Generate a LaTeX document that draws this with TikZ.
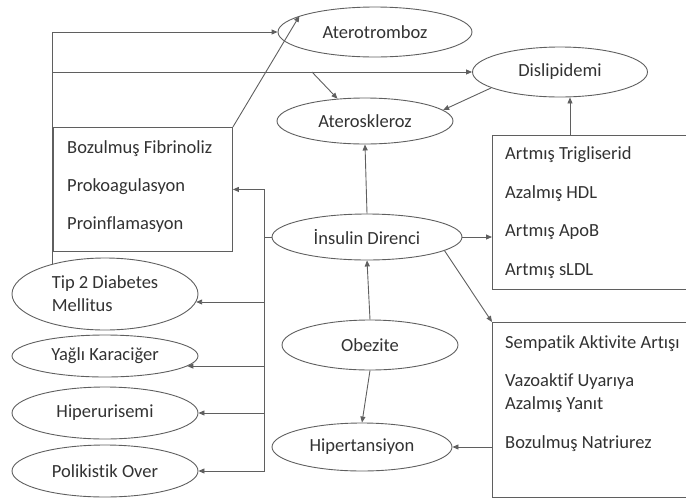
\documentclass[tikz,border=0pt]{standalone}
\usepackage{fontspec}
\setmainfont{Carlito}[Ligatures=NoCommon]
\usepackage{tikz}
\usetikzlibrary{shapes.geometric, arrows.meta, calc}
\definecolor{LineGray}{RGB}{95,95,95}
\definecolor{TextGray}{RGB}{50,50,50}

\begin{document}
\begin{tikzpicture}[
  x=1pt, y=-1pt,
  font=\fontsize{18.5}{23}\selectfont,
  every node/.style={text=TextGray},
  state/.style={
    ellipse, draw=LineGray, line width=0.9pt, inner sep=0pt
  },
  listbox/.style={
    rectangle, draw=LineGray, line width=0.9pt, inner sep=0pt,
    anchor=north west
  },
  listtext/.style={anchor=north west, align=left, inner sep=0pt},
  conn/.style={draw=LineGray, line width=0.9pt},
  arr/.style={conn, -{Triangle[length=6pt, width=5pt]}}
]
\useasboundingbox (0,0) rectangle (686,499);
\clip (0,0) rectangle (686,499);

% ================ ellipses: centre column ================
\node[state, minimum width=194, minimum height=50] (atero) at (375,32) {Aterotromboz};
\node[state, minimum width=175, minimum height=50] (dislip) at (560,72) {Dislipidemi};
\node[state, minimum width=176, minimum height=46] (aterosk) at (365,121) {Ateroskleroz};
\node[state, minimum width=190, minimum height=46] (insulin) at (367,237) {İnsulin Direnci};
\node[state, minimum width=176, minimum height=50] (obez) at (370,345) {Obezite};
\node[state, minimum width=180, minimum height=48] (hiper) at (362,447) {Hipertansiyon};

% ================ ellipses: left column ================
\node[state, minimum width=186, minimum height=72, align=left] (tip2) at (105,294)
  {Tip 2 Diabetes\\Mellitus};
\node[state, minimum width=186, minimum height=42] (yagli) at (105,356) {Yağlı Karaciğer};
\node[state, minimum width=186, minimum height=52] (hiperu) at (105,413) {Hiperurisemi};
\node[state, minimum width=186, minimum height=52] (poli) at (105,471) {Polikistik Over};

% ================ boxes ================
\node[listbox, minimum width=179, minimum height=124] (fibBox) at (53,127) {};
\node[listtext] (fibText) at (67,140)
  {Bozulmuş Fibrinoliz\\[15pt]Prokoagulasyon\\[15pt]Proinflamasyon};

\node[listbox, minimum width=220, minimum height=154] (lipBox) at (492,135) {};
\node[listtext] (lipText) at (505,146)
  {Artmış Trigliserid\\[16pt]Azalmış HDL\\[15pt]Artmış ApoB\\[16pt]Artmış sLDL};

\node[listbox, minimum width=220, minimum height=175] (sempBox) at (492,322) {};
\node[listtext] (sempText) at (505,335)
  {Sempatik Aktivite Artışı\\[15pt]Vazoaktif Uyarıya\\Azalmış Yanıt\\[16pt]Bozulmuş Natriurez};

% ================ feedback lines (left side, top) ================
\draw[arr] (tip2.150) |- (atero.west);
\coordinate (fbMid) at (tip2.150 |- dislip.west);
\draw[arr] (fbMid) -- (dislip.west);
\coordinate (fbFork) at (312,72);
\draw[arr] (fbFork) -- (aterosk.141);
\draw[arr] (fibBox.north east) -- (atero.168);
\draw[arr] (dislip.193) -- (aterosk.8);
\coordinate (lipTop) at ($(dislip.south)+(10,0)$);
\draw[arr] (lipTop |- lipBox.north) -- (lipTop);

% ================ insulin / obezite ================
\draw[arr] (insulin.north) -- (aterosk.south);
\draw[arr] (insulin.east) -- (insulin.east -| lipBox.west);
\draw[arr] (insulin.-10) -- (sempBox.north west);
\draw[arr] (hiper.east -| sempBox.west) -- (hiper.east);
\draw[arr] (obez.north) -- (insulin.south);
\draw[arr] (obez.south) -- (hiper.north);

% ================ hub to the left ================
\coordinate (hub) at ($(insulin.west)+(-7,0)$);
\draw[conn] (insulin.west) -- (hub);
\draw[arr] (hub) |- (fibBox.east);
\draw[conn] (hub) -- (hub |- poli.east);
\draw[arr] (hub |- tip2.-5) -- (tip2.-5);
\draw[arr] (hub |- yagli.-7) -- (yagli.-7);
\draw[arr] (hub |- hiperu.east) -- (hiperu.east);
\draw[arr] (hub |- poli.east) -- (poli.east);
\end{tikzpicture}
\end{document}
